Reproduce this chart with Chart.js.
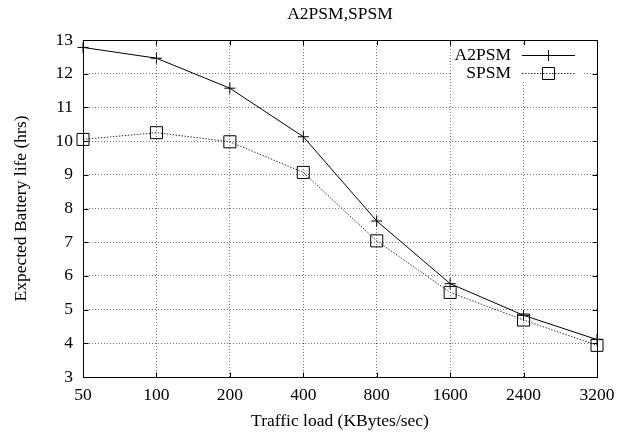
<!DOCTYPE html>
<html><head><meta charset="utf-8">
<script src="https://cdn.jsdelivr.net/npm/chart.js@4.4.1/dist/chart.umd.min.js"></script>
<style>html,body{margin:0;padding:0;background:#fff;}</style>
</head><body>
<canvas id="c" width="628" height="432" style="width:628px;height:432px;display:block"></canvas>
<script>
const categories = ['50', '100', '200', '400', '800', '1600', '2400', '3200'];
const a2psm = [12.78, 12.46, 11.57, 10.13, 7.63, 5.77, 4.83, 4.11];
const spsm = [10.05, 10.25, 9.98, 9.07, 7.04, 5.51, 4.69, 3.94];
const yTicks = [3, 4, 5, 6, 7, 8, 9, 10, 11, 12, 13];
const seriesLabels = ['A2PSM', 'SPSM'];
const chartTitle = 'A2PSM,SPSM';
const xTitle = 'Traffic load (KBytes/sec)';
const yTitle = 'Expected Battery life (hrs)';

const FAMILY = '"Liberation Serif", "Times New Roman", serif';
const FSIZE = 17.5;
Chart.defaults.font.family = FAMILY;
Chart.defaults.font.size = FSIZE;
Chart.defaults.color = '#000';

const crisp = v => Math.round(v) + 0.5;

const framePlugin = {
  id: 'frame',
  afterDatasetsDraw(chart) {
    const {ctx, chartArea: a, scales: {x, y}} = chart;
    ctx.save();
    ctx.strokeStyle = '#000';
    ctx.lineWidth = 1;
    ctx.setLineDash([]);
    const L = crisp(a.left), R = crisp(a.right), T = crisp(a.top), B = crisp(a.bottom);
    ctx.strokeRect(L, T, R - L, B - T);
    const tl = 5;
    ctx.beginPath();
    x.ticks.forEach((t, i) => {
      const px = crisp(x.getPixelForTick(i));
      ctx.moveTo(px, B); ctx.lineTo(px, B - tl);
      ctx.moveTo(px, T); ctx.lineTo(px, T + tl);
    });
    y.ticks.forEach((t, i) => {
      const py = crisp(y.getPixelForTick(i));
      ctx.moveTo(L, py); ctx.lineTo(L + tl, py);
      ctx.moveTo(R, py); ctx.lineTo(R - tl, py);
    });
    ctx.stroke();
    ctx.restore();
  }
};

const legendPlugin = {
  id: 'insideLegend',
  afterDraw(chart) {
    const {ctx, chartArea: a} = chart;
    ctx.save();
    ctx.fillStyle = '#fff';
    ctx.fillRect(a.right - 145, a.top + 5, 131, 36);
    ctx.font = FSIZE + 'px ' + FAMILY;
    ctx.textAlign = 'right';
    ctx.textBaseline = 'middle';
    chart.data.datasets.forEach((ds, i) => {
      const yy = crisp(a.top + 15 + i * 17.5);
      ctx.fillStyle = '#000';
      ctx.fillText(ds.label, a.right - 86, yy);
      ctx.strokeStyle = ds.borderColor;
      ctx.lineWidth = 1;
      ctx.setLineDash(ds.borderDash || []);
      ctx.beginPath();
      ctx.moveTo(a.right - 75, yy); ctx.lineTo(a.right - 22, yy);
      ctx.stroke();
      ctx.setLineDash([]);
      ctx.strokeStyle = '#000';
      const cx = crisp(a.right - 49);
      ctx.beginPath();
      if (ds.pointStyle === 'cross') {
        const r = ds.pointRadius;
        ctx.moveTo(cx - r, yy); ctx.lineTo(cx + r, yy);
        ctx.moveTo(cx, yy - r); ctx.lineTo(cx, yy + r);
      } else {
        const s = Math.SQRT1_2 * ds.pointRadius;
        ctx.rect(cx - s, yy - s, 2 * s, 2 * s);
      }
      ctx.stroke();
    });
    ctx.restore();
  }
};

new Chart(document.getElementById('c'), {
  type: 'line',
  data: {
    labels: categories,
    datasets: [
      {
        label: seriesLabels[0], data: a2psm,
        borderColor: '#000', borderWidth: 1, fill: false, tension: 0,
        pointStyle: 'cross', pointRadius: 5.5, pointBorderWidth: 1,
        pointBorderColor: '#000', pointBackgroundColor: 'rgba(0,0,0,0)'
      },
      {
        label: seriesLabels[1], data: spsm,
        borderColor: '#333', borderWidth: 1, borderDash: [1.5, 1.5], fill: false, tension: 0,
        pointStyle: 'rect', pointRadius: 8.5, pointBorderWidth: 1,
        pointBorderColor: '#000', pointBackgroundColor: 'rgba(0,0,0,0)'
      }
    ]
  },
  options: {
    responsive: false,
    animation: false,
    devicePixelRatio: 1,
    layout: {padding: {left: 0, right: 31, top: 0, bottom: 0}},
    plugins: {
      legend: {display: false},
      tooltip: {enabled: false},
      title: {
        display: true, text: chartTitle, fullSize: false,
        font: {size: FSIZE, weight: 'normal', family: FAMILY}, color: '#000',
        padding: {top: 3.5, bottom: 15.5}
      }
    },
    scales: {
      x: {
        type: 'category', offset: false,
        grid: {color: '#777', lineWidth: 1, drawTicks: false},
        border: {display: false, dash: [1, 2]},
        ticks: {padding: 7.5, maxRotation: 0, autoSkip: false, color: '#000', font: {size: FSIZE}},
        title: {display: true, text: xTitle, color: '#000', font: {size: FSIZE}, padding: {top: 0, bottom: 0}},
        afterFit: s => { s.height = 55; }
      },
      y: {
        min: 3, max: 13,
        afterBuildTicks: s => { s.ticks = yTicks.map(v => ({value: v})); },
        grid: {color: '#777', lineWidth: 1, drawTicks: false},
        border: {display: false, dash: [1, 2]},
        ticks: {padding: 10, color: '#000', font: {size: FSIZE}},
        title: {display: true, text: yTitle, color: '#000', font: {size: FSIZE}, padding: {top: 11, bottom: 0}},
        afterFit: s => { s.width = 83; }
      }
    }
  },
  plugins: [framePlugin, legendPlugin]
});
</script>
</body></html>
